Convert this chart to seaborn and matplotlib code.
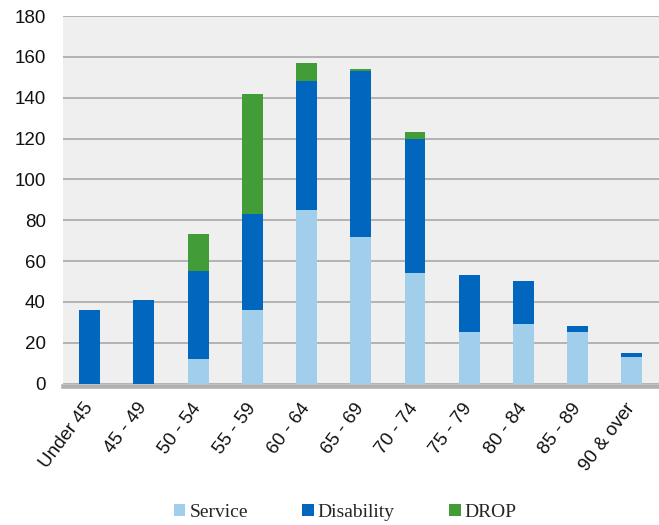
import matplotlib
matplotlib.use("Agg")
import matplotlib.pyplot as plt
from matplotlib.patches import Patch
import numpy as np
import pandas as pd
import seaborn as sns

# Retirements by age group and type
age_groups = ["Under 45", "45 - 49", "50 - 54", "55 - 59", "60 - 64", "65 - 69",
              "70 - 74", "75 - 79", "80 - 84", "85 - 89", "90 & over"]
service = [0, 0, 12, 36, 85, 72, 54, 25, 29, 25, 13]
disability = [36, 41, 43, 47, 63, 81, 66, 28, 21, 3, 2]
drop = [0, 0, 18, 59, 9, 1, 3, 0, 0, 0, 0]

series_names = ["Service", "Disability", "DROP"]
series_colors = ["#A1CEEB", "#0066BE", "#429C37"]

df = pd.DataFrame({"age": age_groups, "Service": service,
                   "Disability": disability, "DROP": drop})
df["lvl1"] = df["Service"]
df["lvl2"] = df["Service"] + df["Disability"]
df["lvl3"] = df["lvl2"] + df["DROP"]

sns.set_theme(style="white")
plt.rcParams["font.family"] = ["Liberation Sans", "DejaVu Sans"]

fig = plt.figure(figsize=(6.59, 5.25), dpi=100)
ax = fig.add_axes([0.095, 0.2695, 0.905, 0.70])
ax.set_facecolor("#EFEFEF")

# Stacked bars: draw cumulative totals from top layer down
for col, color in zip(["lvl3", "lvl2", "lvl1"], series_colors[::-1]):
    sns.barplot(data=df, x="age", y=col, color=color, width=0.385,
                saturation=1, ax=ax, zorder=3, linewidth=0)

ax.set_ylim(0, 180)
ax.set_yticks(np.arange(0, 181, 20))
ax.set_xlim(-0.5, len(age_groups) - 0.5)
ax.yaxis.grid(True, color="#B3B3B3", linewidth=1.4, zorder=0)
ax.set_axisbelow(True)
for side in ["top", "right", "left"]:
    ax.spines[side].set_visible(False)
ax.spines["bottom"].set_color("#B0B0B0")
ax.spines["bottom"].set_linewidth(3.3)
ax.spines["bottom"].set_position(("outward", 1.5))

ax.set_xlabel("")
ax.set_ylabel("")
ax.tick_params(axis="both", length=0, labelsize=13.5, colors="#111111")
ax.tick_params(axis="y", pad=12)
ax.set_xticks(range(len(age_groups)))
ax.set_xticklabels(age_groups, rotation=53, ha="right", va="center",
                   rotation_mode="anchor")
ax.tick_params(axis="x", pad=14)

handles = [Patch(facecolor=c, edgecolor="none") for c in series_colors]
fig.legend(handles, series_names, loc="center", bbox_to_anchor=(0.524, 0.024),
           ncol=3, frameon=False, handlelength=0.6, handleheight=0.6,
           handletextpad=0.2, columnspacing=2.8,
           prop={"family": "Liberation Serif", "size": 14})

fig.savefig("out.png", dpi=100)
